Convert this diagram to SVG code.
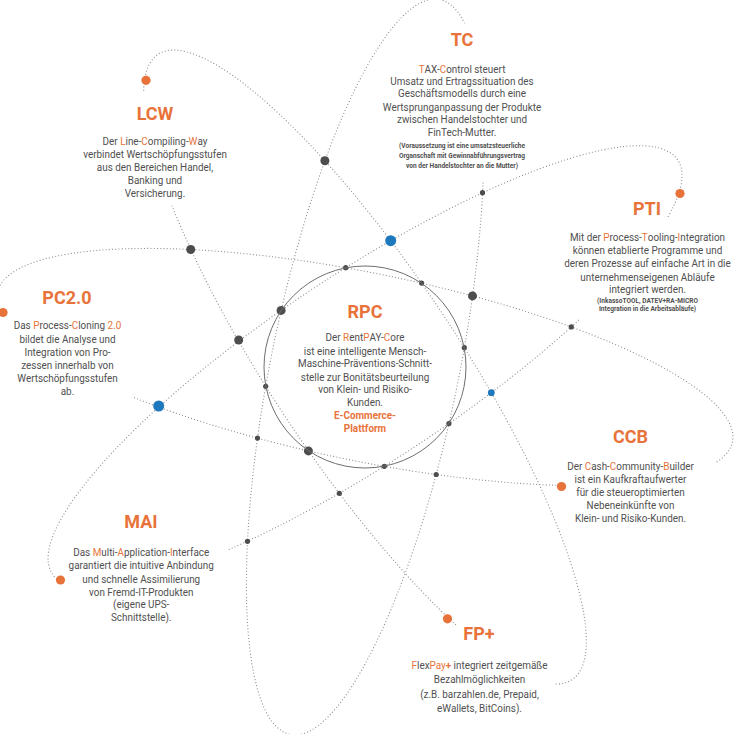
<svg xmlns="http://www.w3.org/2000/svg" width="735" height="734" viewBox="0 0 735 734">
<style>
.orb{fill:none;stroke:#8c8c8c;stroke-width:1.1;stroke-dasharray:1 2.2}
.ring{fill:none;stroke:#6e6e6e;stroke-width:1}
.t{font-family:Roboto,"Liberation Sans",sans-serif;fill:#505050;font-size:11px;text-anchor:middle}
.h{fill:#e8733a}
.b{font-weight:bold}
.ttl{font-family:Roboto,"Liberation Sans",sans-serif;font-weight:bold;font-size:18px;fill:#e8733a;text-anchor:middle}
.note{font-size:7.3px;font-weight:bold}
.dk{fill:#4d4d4d}
.bl{fill:#1e78bd}
.or{fill:#e8733a}
</style>
<rect width="735" height="734" fill="#fff"/>
<g id="connectors">
  <path class="orb" d="M455.9 624.8 A375 94 56.5 0 1 172 205.7"/>
  <path class="orb" d="M143.7 90.8 A375 94 56.5 1 1 555.2 684"/>
  <path class="orb" d="M1.6 313 A375 94 11.5 1 1 715.1 463.1"/>
  <path class="orb" d="M565.8 485.5 A375 94 11.5 0 1 133.8 397.5"/>
  <path class="orb" d="M59.4 581 A375 94 146.5 1 1 667.2 218.2"/>
  <path class="orb" d="M578.8 320 A375 94 146.5 0 1 228.1 549.9"/>
  <path class="orb" d="M483 182.6 A375 94 101.5 1 1 464.6 23.3"/>
</g>
<g id="junctions">
  <circle class="dk" cx="324.9" cy="160.7" r="4.5"/>
  <circle class="dk" cx="190.7" cy="249.5" r="4.5"/>
  <circle class="dk" cx="472.5" cy="295.9" r="4.5"/>
  <circle class="dk" cx="281.1" cy="310.4" r="4.5"/>
  <circle class="dk" cx="238.7" cy="340" r="4.5"/>
  <circle class="dk" cx="308.4" cy="450.9" r="4.5"/>
  <circle class="dk" cx="482.5" cy="192.7" r="2.6"/>
  <circle class="dk" cx="345.7" cy="267.7" r="2.6"/>
  <circle class="dk" cx="421.6" cy="283.1" r="2.6"/>
  <circle class="dk" cx="571.3" cy="326.9" r="2.6"/>
  <circle class="dk" cx="464.3" cy="347.7" r="2.6"/>
  <circle class="dk" cx="265.7" cy="386.3" r="2.6"/>
  <circle class="dk" cx="257.5" cy="438.1" r="2.6"/>
  <circle class="dk" cx="448.9" cy="423.6" r="2.6"/>
  <circle class="dk" cx="384.3" cy="466.3" r="2.6"/>
  <circle class="dk" cx="436.2" cy="474.5" r="2.6"/>
  <circle class="dk" cx="339.3" cy="493.3" r="2.6"/>
  <circle class="dk" cx="247.5" cy="541.3" r="2.6"/>
  <circle class="bl" cx="390.7" cy="240.7" r="5.5"/>
  <circle class="bl" cx="158.7" cy="406" r="5.5"/>
  <circle class="bl" cx="491.3" cy="392.7" r="3.4"/>
</g>
<g id="RPC">
  <circle class="ring" cx="365" cy="367" r="101"/>
  <text class="ttl" x="365" y="318.3">RPC</text>
  <g transform="translate(365 0) scale(0.9 1)">
    <text class="t" x="0" y="340.8">Der <tspan class="h">R</tspan>ent<tspan class="h">P</tspan>AY-<tspan class="h">C</tspan>ore</text>
    <text class="t" x="0" y="355.2">ist eine intelligente Mensch-</text>
    <text class="t" x="0" y="367.5">Maschine-Präventions-Schnitt-</text>
    <text class="t" x="0" y="380.8">stelle zur Bonitätsbeurteilung</text>
    <text class="t" x="0" y="393.5">von Klein- und Risiko-</text>
    <text class="t" x="0" y="406.2">Kunden.</text>
    <text class="t h b" x="0" y="419.5">E-Commerce-</text>
    <text class="t h b" x="0" y="431.8">Plattform</text>
  </g>
</g>
<g id="TC">
  <text class="ttl" x="462" y="46">TC</text>
  <g transform="translate(462 0) scale(0.9 1)">
    <text class="t" x="0" y="72.8"><tspan class="h">T</tspan>AX-<tspan class="h">C</tspan>ontrol steuert</text>
    <text class="t" x="0" y="85.2">Umsatz und Ertragssituation des</text>
    <text class="t" x="0" y="97.5">Geschäftsmodells durch eine</text>
    <text class="t" x="0" y="110.8">Wertsprunganpassung der Produkte</text>
    <text class="t" x="0" y="123.5">zwischen Handelstochter und</text>
    <text class="t" x="0" y="136.2">FinTech-Mutter.</text>
    <text class="t note" x="0" y="148.5">(Voraussetzung ist eine umsatzsteuerliche</text>
    <text class="t note" x="0" y="158.5">Organschaft mit Gewinnabführungsvertrag</text>
    <text class="t note" x="0" y="168.5">von der Handelstochter an die Mutter)</text>
  </g>
</g>
<g id="LCW">
  <circle class="or" cx="146" cy="80.3" r="4.6"/>
  <text class="ttl" x="155" y="120">LCW</text>
  <g transform="translate(155 0) scale(0.9 1)">
    <text class="t" x="0" y="145.2">Der <tspan class="h">L</tspan>ine-<tspan class="h">C</tspan>ompiling-<tspan class="h">W</tspan>ay</text>
    <text class="t" x="0" y="158.5">verbindet Wertschöpfungsstufen</text>
    <text class="t" x="0" y="170.8">aus den Bereichen Handel,</text>
    <text class="t" x="0" y="184.2">Banking und</text>
    <text class="t" x="0" y="197.5">Versicherung.</text>
  </g>
</g>
<g id="PTI">
  <circle class="or" cx="680" cy="193.5" r="4.6"/>
  <text class="ttl" x="647" y="215">PTI</text>
  <g transform="translate(647.5 0) scale(0.9 1)">
    <text class="t" x="0" y="240.8">Mit der <tspan class="h">P</tspan>rocess-<tspan class="h">T</tspan>ooling-<tspan class="h">I</tspan>ntegration</text>
    <text class="t" x="0" y="254.2">können etablierte Programme und</text>
    <text class="t" x="0" y="267.5">deren Prozesse auf einfache Art in die</text>
    <text class="t" x="0" y="280.8">unternehmenseigenen Abläufe</text>
    <text class="t" x="0" y="293">integriert werden.</text>
    <text class="t note" x="0" y="303">(InkassoTOOL, DATEV+RA-MICRO</text>
    <text class="t note" x="0" y="311.5">Integration in die Arbeitsabläufe)</text>
  </g>
</g>
<g id="PC2.0">
  <circle class="or" cx="3" cy="312.5" r="4.6"/>
  <text class="ttl" x="67" y="304">PC2.0</text>
  <g transform="translate(67.5 0) scale(0.9 1)">
    <text class="t" x="0" y="329.5">Das <tspan class="h">P</tspan>rocess-<tspan class="h">C</tspan>loning <tspan class="h">2.0</tspan></text>
    <text class="t" x="0" y="343">bildet die Analyse und</text>
    <text class="t" x="0" y="356">Integration von Pro-</text>
    <text class="t" x="0" y="369">zessen innerhalb von</text>
    <text class="t" x="0" y="382">Wertschöpfungsstufen</text>
    <text class="t" x="0" y="395.5">ab.</text>
  </g>
</g>
<g id="CCB">
  <circle class="or" cx="561.5" cy="486.5" r="4.6"/>
  <text class="ttl" x="630.5" y="442.7">CCB</text>
  <g transform="translate(630.5 0) scale(0.9 1)">
    <text class="t" x="0" y="470.2">Der <tspan class="h">C</tspan>ash-<tspan class="h">C</tspan>ommunity-<tspan class="h">B</tspan>uilder</text>
    <text class="t" x="0" y="483.5">ist ein Kaufkraftaufwerter</text>
    <text class="t" x="0" y="496.2">für die steueroptimierten</text>
    <text class="t" x="0" y="509.5">Nebeneinkünfte von</text>
    <text class="t" x="0" y="522.5">Klein- und Risiko-Kunden.</text>
  </g>
</g>
<g id="MAI">
  <circle class="or" cx="60.5" cy="580" r="4.6"/>
  <text class="ttl" x="141" y="528.3">MAI</text>
  <g transform="translate(141.2 0) scale(0.9 1)">
    <text class="t" x="0" y="556.2">Das <tspan class="h">M</tspan>ulti-<tspan class="h">A</tspan>pplication-<tspan class="h">I</tspan>nterface</text>
    <text class="t" x="0" y="569.5">garantiert die intuitive Anbindung</text>
    <text class="t" x="0" y="582.8">und schnelle Assimilierung</text>
    <text class="t" x="0" y="595.8">von Fremd-IT-Produkten</text>
    <text class="t" x="0" y="608.5">(eigene UPS-</text>
    <text class="t" x="0" y="620.8">Schnittstelle).</text>
  </g>
</g>
<g id="FPplus">
  <circle class="or" cx="447.5" cy="618.8" r="4.6"/>
  <text class="ttl" x="479" y="640">FP+</text>
  <g transform="translate(479.5 0) scale(0.9 1)">
    <text class="t" x="0" y="669.5"><tspan class="h">F</tspan>lex<tspan class="h">Pay</tspan><tspan class="h b">+</tspan> integriert zeitgemäße</text>
    <text class="t" x="0" y="683.5">Bezahlmöglichkeiten</text>
    <text class="t" x="0" y="698.5">(z.B. barzahlen.de, Prepaid,</text>
    <text class="t" x="0" y="711.8">eWallets, BitCoins).</text>
  </g>
</g>
</svg>
